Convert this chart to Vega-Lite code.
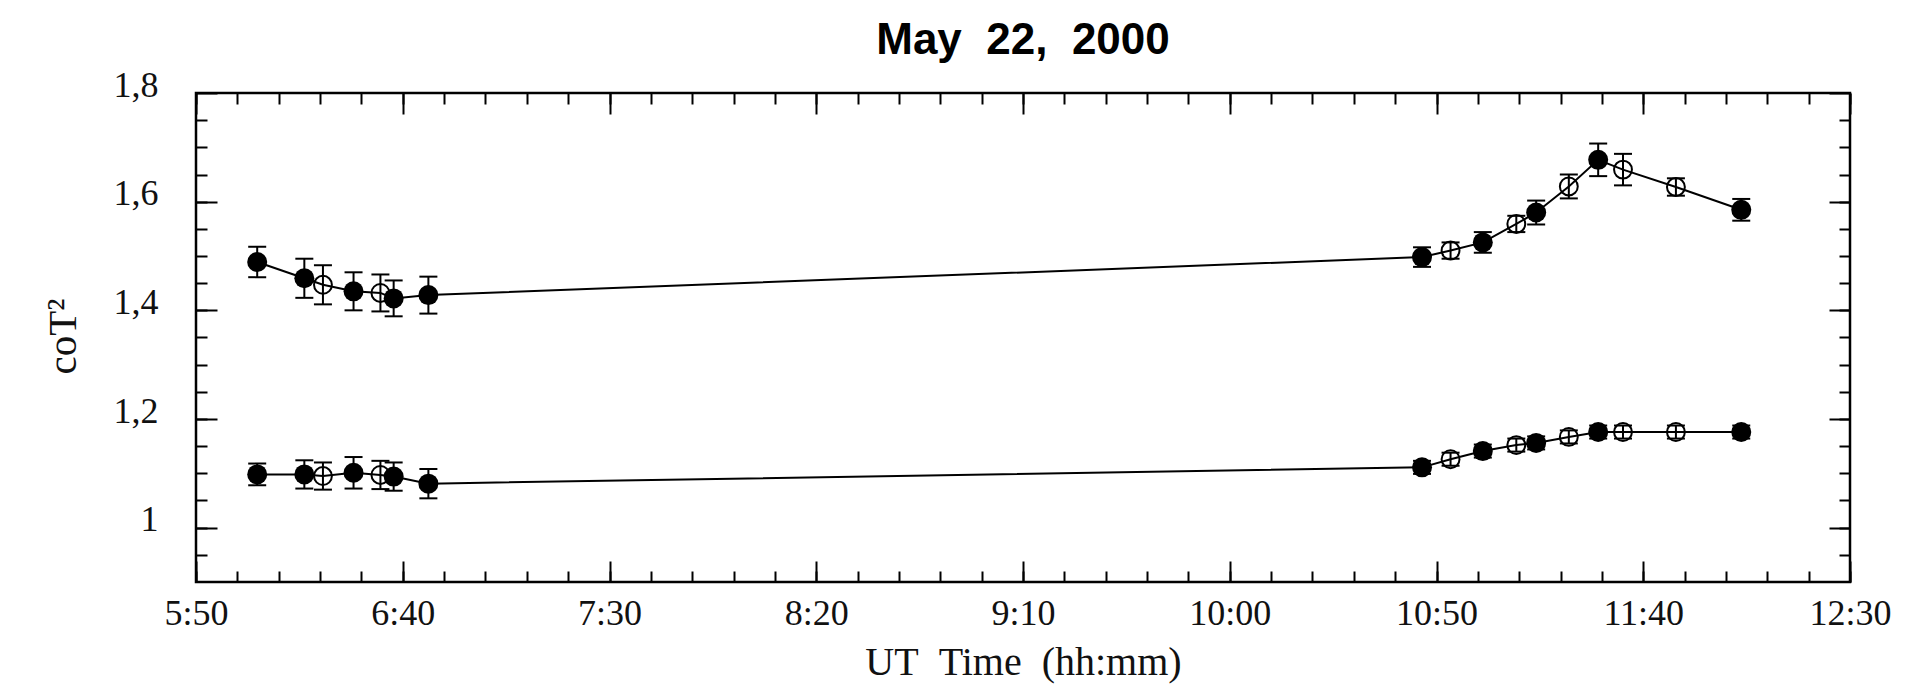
{
  "$schema": "https://vega.github.io/schema/vega-lite/v6.json",
  "width": 1654,
  "height": 489,
  "autosize": {"type": "none"},
  "padding": {"left": 196, "top": 93, "right": 60, "bottom": 112},
  "background": "white",
  "title": {"text": "May\u00a0\u00a022,\u00a0\u00a02000", "font": "Liberation Sans", "fontWeight": "bold", "fontSize": 44, "color": "black", "anchor": "middle", "baseline": "alphabetic", "offset": 15, "dy": 46},
  "data": {"values": [
    {"t": 364.8, "v": 1.489, "lo": 1.461, "hi": 1.517, "s": "A", "f": "filled"},
    {"t": 376.2, "v": 1.459, "lo": 1.423, "hi": 1.495, "s": "A", "f": "filled"},
    {"t": 380.7, "v": 1.447, "lo": 1.411, "hi": 1.483, "s": "A", "f": "open"},
    {"t": 388.1, "v": 1.435, "lo": 1.400, "hi": 1.470, "s": "A", "f": "filled"},
    {"t": 394.6, "v": 1.432, "lo": 1.398, "hi": 1.466, "s": "A", "f": "open"},
    {"t": 397.8, "v": 1.422, "lo": 1.389, "hi": 1.455, "s": "A", "f": "filled"},
    {"t": 406.2, "v": 1.428, "lo": 1.394, "hi": 1.462, "s": "A", "f": "filled"},
    {"t": 646.5, "v": 1.498, "lo": 1.480, "hi": 1.516, "s": "A", "f": "filled"},
    {"t": 653.4, "v": 1.510, "lo": 1.495, "hi": 1.525, "s": "A", "f": "open"},
    {"t": 661.2, "v": 1.525, "lo": 1.506, "hi": 1.544, "s": "A", "f": "filled"},
    {"t": 669.3, "v": 1.559, "lo": 1.544, "hi": 1.574, "s": "A", "f": "open"},
    {"t": 674.1, "v": 1.580, "lo": 1.558, "hi": 1.602, "s": "A", "f": "filled"},
    {"t": 682.0, "v": 1.628, "lo": 1.606, "hi": 1.650, "s": "A", "f": "open"},
    {"t": 689.1, "v": 1.677, "lo": 1.647, "hi": 1.707, "s": "A", "f": "filled"},
    {"t": 695.1, "v": 1.659, "lo": 1.630, "hi": 1.688, "s": "A", "f": "open"},
    {"t": 707.9, "v": 1.627, "lo": 1.611, "hi": 1.643, "s": "A", "f": "open"},
    {"t": 723.7, "v": 1.585, "lo": 1.565, "hi": 1.605, "s": "A", "f": "filled"},
    {"t": 364.8, "v": 1.098, "lo": 1.078, "hi": 1.118, "s": "B", "f": "filled"},
    {"t": 376.2, "v": 1.098, "lo": 1.072, "hi": 1.124, "s": "B", "f": "filled"},
    {"t": 380.7, "v": 1.095, "lo": 1.070, "hi": 1.120, "s": "B", "f": "open"},
    {"t": 388.1, "v": 1.101, "lo": 1.072, "hi": 1.130, "s": "B", "f": "filled"},
    {"t": 394.6, "v": 1.097, "lo": 1.071, "hi": 1.123, "s": "B", "f": "open"},
    {"t": 397.8, "v": 1.094, "lo": 1.068, "hi": 1.120, "s": "B", "f": "filled"},
    {"t": 406.2, "v": 1.081, "lo": 1.054, "hi": 1.108, "s": "B", "f": "filled"},
    {"t": 646.5, "v": 1.111, "lo": 1.099, "hi": 1.123, "s": "B", "f": "filled"},
    {"t": 653.4, "v": 1.126, "lo": 1.114, "hi": 1.138, "s": "B", "f": "open"},
    {"t": 661.2, "v": 1.141, "lo": 1.129, "hi": 1.153, "s": "B", "f": "filled"},
    {"t": 669.3, "v": 1.152, "lo": 1.140, "hi": 1.164, "s": "B", "f": "open"},
    {"t": 674.1, "v": 1.156, "lo": 1.144, "hi": 1.168, "s": "B", "f": "filled"},
    {"t": 682.0, "v": 1.167, "lo": 1.155, "hi": 1.179, "s": "B", "f": "open"},
    {"t": 689.1, "v": 1.176, "lo": 1.164, "hi": 1.188, "s": "B", "f": "filled"},
    {"t": 695.1, "v": 1.176, "lo": 1.164, "hi": 1.188, "s": "B", "f": "open"},
    {"t": 707.9, "v": 1.176, "lo": 1.164, "hi": 1.188, "s": "B", "f": "open"},
    {"t": 723.7, "v": 1.176, "lo": 1.164, "hi": 1.188, "s": "B", "f": "filled"}
  ]},
  "resolve": {"axis": {"x": "independent", "y": "independent"}},
  "layer": [
    {
      "transform": [{"filter": "datum.f == 'open'"}],
      "mark": {"type": "circle", "fill": "white", "stroke": "black", "strokeWidth": 2, "size": 320, "opacity": 1},
      "encoding": {
        "x": {"field": "t", "type": "quantitative", "scale": {"domain": [350, 750], "nice": false, "zero": false},
          "axis": {"orient": "bottom", "values": [350,360,370,380,390,400,410,420,430,440,450,460,470,480,490,500,510,520,530,540,550,560,570,580,590,600,610,620,630,640,650,660,670,680,690,700,710,720,730,740,750], "tickSize": -11, "labels": false, "title": null}},
        "y": {"field": "v", "type": "quantitative", "scale": {"domain": [0.9, 1.8], "nice": false, "zero": false},
          "axis": {"orient": "left", "values": [0.95,1.0,1.05,1.1,1.15,1.2,1.25,1.3,1.35,1.4,1.45,1.5,1.55,1.6,1.65,1.7,1.75], "tickSize": -11, "labels": false, "title": null}}
      }
    },
    {
      "mark": {"type": "line", "color": "black", "strokeWidth": 2},
      "encoding": {
        "x": {"field": "t", "type": "quantitative", "scale": {"domain": [350, 750], "nice": false, "zero": false},
          "axis": {"orient": "bottom", "values": [350,400,450,500,550,600,650,700,750], "tickSize": -21,
            "labelExpr": "floor(datum.value/60) + ':' + (datum.value % 60 < 10 ? '0' : '') + (datum.value % 60)",
            "labelBaseline": "alphabetic", "labelPadding": 63,
            "title": "UT\u00a0\u00a0Time\u00a0\u00a0(hh:mm)", "titleFontSize": 40, "titleBaseline": "alphabetic", "titleY": 92, "titleAlign": "center"}},
        "y": {"field": "v", "type": "quantitative", "scale": {"domain": [0.9, 1.8], "nice": false, "zero": false},
          "axis": {"orient": "left", "values": [1.0, 1.2, 1.4, 1.6, 1.8], "tickSize": -21,
            "labelExpr": "replace(toString(datum.value), '.', ',')",
            "labelAlign": "right", "labelBaseline": "alphabetic", "labelOffset": 3, "labelPadding": 59,
            "title": "coT²", "titleFontSize": 41, "titleAngle": 270, "titleBaseline": "alphabetic", "titleAlign": "center", "titleX": -121, "titleY": 243}},
        "detail": {"field": "s", "type": "nominal"}
      }
    },
    {
      "transform": [{"filter": "datum.f == 'filled'"}],
      "mark": {"type": "circle", "color": "black", "size": 400, "opacity": 1},
      "encoding": {
        "x": {"field": "t", "type": "quantitative", "scale": {"domain": [350, 750], "nice": false, "zero": false},
          "axis": {"orient": "top", "values": [350,400,450,500,550,600,650,700,750], "tickSize": -21, "labels": false, "title": null}},
        "y": {"field": "v", "type": "quantitative", "scale": {"domain": [0.9, 1.8], "nice": false, "zero": false},
          "axis": {"orient": "right", "values": [1.0, 1.2, 1.4, 1.6, 1.8], "tickSize": -21, "labels": false, "title": null}}
      }
    },
    {
      "mark": {"type": "rule", "color": "black", "strokeWidth": 2},
      "encoding": {
        "x": {"field": "t", "type": "quantitative", "scale": {"domain": [350, 750], "nice": false, "zero": false},
          "axis": {"orient": "top", "values": [350,360,370,380,390,400,410,420,430,440,450,460,470,480,490,500,510,520,530,540,550,560,570,580,590,600,610,620,630,640,650,660,670,680,690,700,710,720,730,740,750], "tickSize": -11, "labels": false, "title": null}},
        "y": {"field": "lo", "type": "quantitative", "scale": {"domain": [0.9, 1.8], "nice": false, "zero": false},
          "axis": {"orient": "right", "values": [0.95,1.0,1.05,1.1,1.15,1.2,1.25,1.3,1.35,1.4,1.45,1.5,1.55,1.6,1.65,1.7,1.75], "tickSize": -11, "labels": false, "title": null}},
        "y2": {"field": "hi"}
      }
    },
    {
      "mark": {"type": "tick", "orient": "horizontal", "color": "black", "size": 18, "thickness": 2, "opacity": 1},
      "encoding": {
        "x": {"field": "t", "type": "quantitative", "axis": null},
        "y": {"field": "lo", "type": "quantitative", "axis": null}
      }
    },
    {
      "mark": {"type": "tick", "orient": "horizontal", "color": "black", "size": 18, "thickness": 2, "opacity": 1},
      "encoding": {
        "x": {"field": "t", "type": "quantitative", "axis": null},
        "y": {"field": "hi", "type": "quantitative", "axis": null}
      }
    }
  ],
  "config": {
    "view": {"stroke": "black", "strokeWidth": 2.5},
    "axis": {
      "grid": false, "domain": false, "ticks": true, "tickColor": "black", "tickWidth": 2,
      "labelFlush": false, "labelOverlap": false, "labelBound": false,
      "labelFont": "Liberation Serif", "labelFontSize": 36, "labelColor": "#111",
      "titleFont": "Liberation Serif", "titleFontSize": 38, "titleFontWeight": "normal", "titleColor": "#111"
    }
  }
}
